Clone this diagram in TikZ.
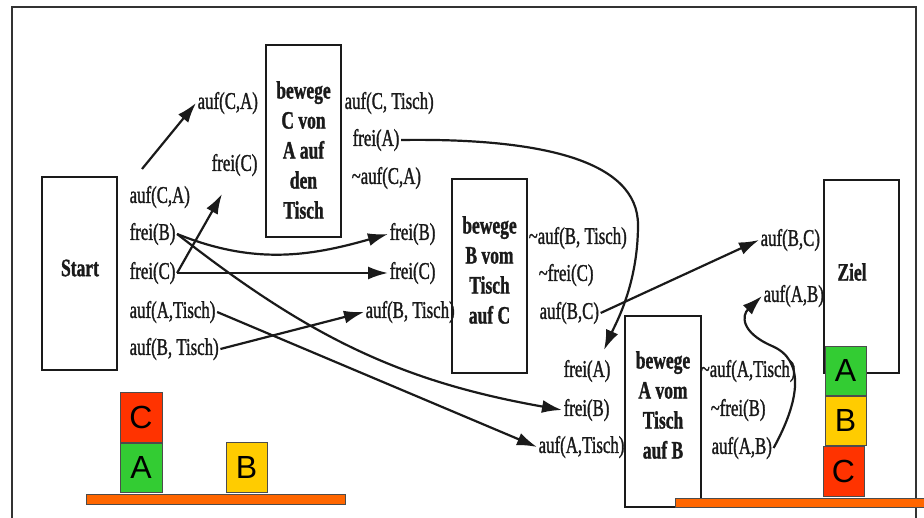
\documentclass[tikz,border=0pt]{standalone}
\usepackage{fontspec}
\setmainfont[FakeStretch=0.70, FakeBold=1.2]{Liberation Serif}
\newfontfamily\blockfont{Liberation Sans}
\usetikzlibrary{arrows.meta}
\definecolor{ink}{HTML}{1A1A1A}
\definecolor{blkred}{HTML}{FF3300}
\definecolor{blkgreen}{HTML}{33CC33}
\definecolor{blkyellow}{HTML}{FFCC00}
\definecolor{barorange}{HTML}{FF6600}
\begin{document}
\begin{tikzpicture}[x=1pt,y=1pt,
  lbl/.style={anchor=west, inner sep=1.5pt, font=\fontsize{24}{26}\selectfont, text=ink},
  opbox/.style={draw=ink, line width=1.6pt, inner sep=0pt},
  optext/.style={font=\fontsize{25}{30}\selectfont\bfseries, align=center, text=ink, inner sep=0pt},
  arr/.style={draw=ink, line width=2.2pt, -{Latex[length=20pt,width=13pt]}},
  blk/.style={draw=black!70, line width=0.8pt, inner sep=0pt, font=\blockfont\fontsize{32}{32}\selectfont},
  barstyle/.style={draw=black!70, fill=barorange, line width=0.8pt}
]
\useasboundingbox (0,0) rectangle (924,-518);
% frame
\draw[black!80, line width=1.2pt] (12,-518) -- (12,-7) -- (916,-7) -- (916,-518);

% operator boxes
\node[opbox, minimum width=75pt, minimum height=193pt] (startbox) at (79.5,-273.5) {};
\node[optext] (starttext) at (80,-268) {Start};
\node[opbox, minimum width=75pt, minimum height=192pt] (boxC) at (303.5,-141) {};
\node[optext] (boxCtext) at (303.5,-150) {bewege\\C von\\A auf\\den\\Tisch};
\node[opbox, minimum width=75pt, minimum height=194pt] (boxB) at (489.5,-276) {};
\node[optext] (boxBtext) at (489.5,-270) {bewege\\B vom\\Tisch\\auf C};
\node[opbox, minimum width=76pt, minimum height=191pt] (boxA) at (663,-411.5) {};
\node[optext] (boxAtext) at (663,-405) {bewege\\A vom\\Tisch\\auf B};
\node[opbox, minimum width=75pt, minimum height=193pt] (zielbox) at (861.5,-276.5) {};
\node[optext] (zieltext) at (852,-272) {Ziel};

% start labels
\node[lbl] (lCA) at (128,-197) {auf(C,A)};
\node[lbl] (lfB) at (128,-234) {frei(B)};
\node[lbl] (lfC) at (128,-273) {frei(C)};
\node[lbl] (lAT) at (128,-312) {auf(A,Tisch)};
\node[lbl] (lBT) at (128,-349) {auf(B, Tisch)};

% box C preconditions / effects
\node[lbl] (uCA) at (196,-103) {auf(C,A)};
\node[lbl] (ufC) at (210,-165) {frei(C)};
\node[lbl] (cCT) at (343,-103) {auf(C, Tisch)};
\node[lbl] (cfA) at (351,-140) {frei(A)};
\node[lbl] (cnCA) at (350,-178) {\textasciitilde auf(C,A)};

% box B preconditions / effects
\node[lbl] (mfB) at (388,-234) {frei(B)};
\node[lbl] (mfC) at (388,-273) {frei(C)};
\node[lbl] (mBT) at (364,-312) {auf(B, Tisch)};
\node[lbl] (bnBT) at (527,-238) {\textasciitilde auf(B, Tisch)};
\node[lbl] (bnfC) at (537,-275) {\textasciitilde frei(C)};
\node[lbl] (bBC) at (538,-313) {auf(B,C)};

% box A preconditions / effects
\node[lbl] (afA) at (562,-371) {frei(A)};
\node[lbl] (afB) at (562,-410) {frei(B)};
\node[lbl] (aAT) at (537,-447) {auf(A,Tisch)};
\node[lbl] (anAT) at (699,-371) {\textasciitilde auf(A,Tisch)};
\node[lbl] (anfB) at (709,-410) {\textasciitilde frei(B)};
\node[lbl] (aAB) at (710,-448) {auf(A,B)};

% goal labels
\node[lbl] (gBC) at (759,-240) {auf(B,C)};
\node[lbl] (gAB) at (762,-296) {auf(A,B)};

% free ends
\coordinate (s1) at (142,-169);
\coordinate (t2) at (222,-194);
\coordinate (t7) at (604,-350);

% connectors
\draw[arr] (s1) -- (uCA.west);
\draw[arr] (lfC.east) -- (t2);
\draw[arr] (lfC.east) -- (mfC.west);
\draw[arr] (lfB.east) to[out=-22,in=196] (mfB.west);
\draw[arr] (lfB.east) to[out=-38,in=170] (afB.west);
\draw[arr] (lBT.east) -- (mBT.west);
\draw[arr] (lAT.east) -- (aAT.west);
\draw[arr] (cfA.east) .. controls (540,-138) and (638,-160) .. (638,-225)
   .. controls (638,-285) and (615,-325) .. (t7);
\draw[arr] (bBC.east) -- (gBC.west);
\draw[arr] (aAB.east) .. controls (800,-400) and (805,-360) .. (772,-346)
   .. controls (740,-332) and (742,-315) .. (gAB.west);

% blocks start state
\draw[barstyle] (86,-494) rectangle (345,-504);
\node[blk, fill=blkred, minimum width=42pt, minimum height=50pt] (sC) at (141,-417) {C};
\node[blk, fill=blkgreen, minimum width=42pt, minimum height=49pt] (sA) at (141,-467.5) {A};
\node[blk, fill=blkyellow, minimum width=41pt, minimum height=50pt] (sB) at (246.5,-467) {B};

% blocks goal state
\draw[barstyle] (675,-498) rectangle (928,-507);
\node[blk, fill=blkgreen, minimum width=41pt, minimum height=49pt] (gA) at (845.5,-370.5) {A};
\node[blk, fill=blkyellow, minimum width=41pt, minimum height=49pt] (gB) at (845.5,-420.5) {B};
\node[blk, fill=blkred, minimum width=41pt, minimum height=50pt] (gC) at (843.5,-471) {C};
\end{tikzpicture}
\end{document}
